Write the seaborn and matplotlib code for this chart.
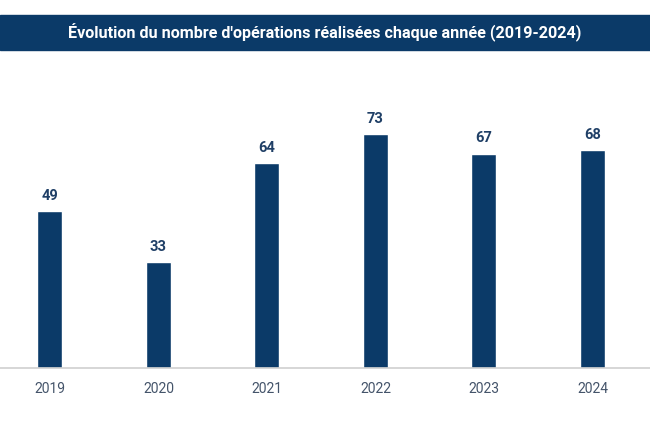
import matplotlib
matplotlib.use("Agg")
import matplotlib.pyplot as plt
import seaborn as sns
import pandas as pd
from matplotlib.patches import Rectangle

years = ["2019", "2020", "2021", "2022", "2023", "2024"]
operations = [49, 33, 64, 73, 67, 68]
title = "Évolution du nombre d'opérations réalisées chaque année (2019-2024)"

navy = "#0b3a68"

sns.set_theme(style="white")
plt.rcParams['font.family'] = ['Roboto', 'DejaVu Sans']

df = pd.DataFrame({"annee": years, "operations": operations})

fig = plt.figure(figsize=(6.5, 4.33), dpi=100)
# axe principal : de y=368 (base) jusqu'à y=60 environ
ax = fig.add_axes([0, (433 - 368) / 433, 1, (368 - 60) / 433])

sns.barplot(data=df, x="annee", y="operations", color=navy, width=0.23,
            saturation=1, ax=ax)

ax.set_xlim(-0.46, 5.53)
ax.set_ylim(0, 308 / 3.2)

# étiquettes de valeur
for i, v in enumerate(operations):
    ax.text(i, v + 2.7, str(v), ha="center", va="bottom", fontsize=10.5,
            fontweight="bold", color="#1f3f66")

for s in ["top", "right", "left"]:
    ax.spines[s].set_visible(False)
ax.spines["bottom"].set_color("#d0d0d0")
ax.spines["bottom"].set_linewidth(1.2)
ax.set_yticks([])
ax.set_xlabel("")
ax.set_ylabel("")
ax.tick_params(axis="x", length=0, pad=10, labelsize=10, labelcolor="#44546a")

# bandeau du titre
fig.patches.append(Rectangle((0, (433 - 50) / 433), 1, 35 / 433,
                             transform=fig.transFigure, color=navy, zorder=0))
fig.text(0.5, (433 - 32.5) / 433, title, ha="center", va="center",
         color="white", fontsize=11.6, fontweight="bold")

fig.savefig("out.png", dpi=100)
